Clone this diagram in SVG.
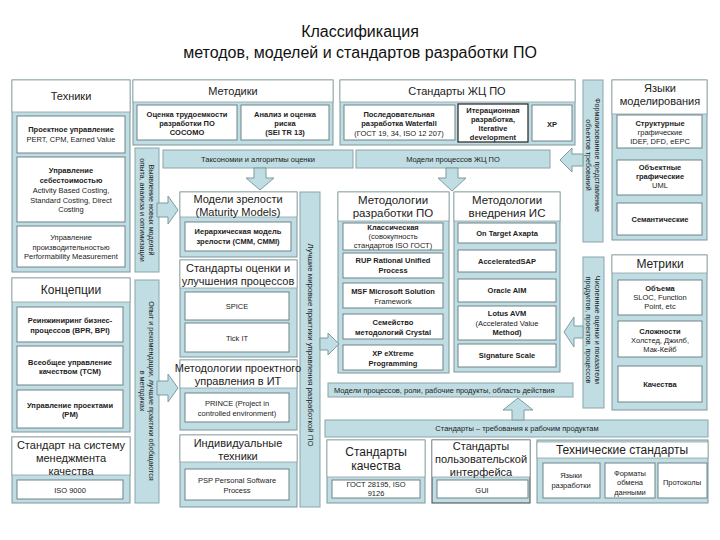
<svg xmlns="http://www.w3.org/2000/svg" width="720" height="540" viewBox="0 0 720 540">
<style>
text{font-family:"Liberation Sans",Arial,sans-serif;fill:#222;text-anchor:middle}
.panel{fill:#bfdde3;stroke:#7d979c;stroke-width:1}
.hdr{fill:#fff;stroke:#8fa3a7;stroke-width:0.8}
.box{fill:#fff;stroke:#6f8489;stroke-width:1}
.bar{fill:#bfdde3;stroke:#8aa5aa;stroke-width:1}
.arr{fill:#bfdde3;stroke:#7d9ba1;stroke-width:1}
.ti{font-size:16px;fill:#111}
.h{font-size:11px}
.hs{font-size:11px}
.b{font-size:7.5px;font-weight:bold}
.n{font-size:7.5px}
.v{font-size:7.2px}
</style>
<rect width="720" height="540" fill="#fff"/>
<g id="title">
<text class="ti" x="360" y="37">Классификация</text>
<text class="ti" x="360" y="58">методов, моделей и стандартов разработки ПО</text>
</g>

<g id="tekhniki">
<rect class="panel" x="12" y="80" width="118" height="192"/>
<rect class="hdr" x="12" y="80" width="118" height="32"/>
<text class="hs" x="71" y="100">Техники</text>
<rect class="box" x="17" y="116" width="108" height="37"/>
<text class="b" x="71" y="132">Проектное управление</text>
<text class="n" x="71" y="142">PERT, CPM, Earned Value</text>
<rect class="box" x="17" y="157" width="108" height="65"/>
<text class="b" x="71" y="173">Управление</text>
<text class="b" x="71" y="183">себестоимостью</text>
<text class="n" x="71" y="193">Activity Based Costing,</text>
<text class="n" x="71" y="203">Standard Costing, Direct</text>
<text class="n" x="71" y="212">Costing</text>
<rect class="box" x="17" y="226" width="108" height="41"/>
<text class="n" x="71" y="240">Управление</text>
<text class="n" x="71" y="250">производительностью</text>
<text class="n" x="71" y="259">Performability Measurement</text>
</g>

<g id="kontseptsii">
<rect class="panel" x="12" y="278" width="118" height="154"/>
<rect class="hdr" x="12" y="278" width="118" height="24"/>
<text class="h" x="71" y="294" style="font-size:12px">Концепции</text>
<rect class="box" x="17" y="307" width="106" height="35"/>
<text class="b" x="70" y="323">Реинжиниринг бизнес-</text>
<text class="b" x="70" y="333">процессов (BPR, BPI)</text>
<rect class="box" x="17" y="346" width="106" height="39"/>
<text class="b" x="70" y="365">Всеобщее управление</text>
<text class="b" x="70" y="374">качеством (TCM)</text>
<rect class="box" x="17" y="390" width="106" height="38"/>
<text class="b" x="70" y="408">Управление проектами</text>
<text class="b" x="70" y="417">(PM)</text>
</g>

<g id="standart-qms">
<rect class="panel" x="12" y="437" width="118" height="66"/>
<rect class="hdr" x="12" y="437" width="118" height="38"/>
<text class="h" x="71" y="449">Стандарт на систему</text>
<text class="h" x="71" y="462">менеджмента</text>
<text class="h" x="71" y="475">качества</text>
<rect class="box" x="17" y="480" width="106" height="19"/>
<text class="n" x="70" y="493">ISO 9000</text>
</g>

<g id="bar-vyyavlenie">
<rect class="bar" x="135" y="148" width="24" height="124"/>
<g transform="translate(147,210) rotate(90)">
<text class="v" x="0" y="-1.5">Выявление новых моделей</text>
<text class="v" x="0" y="7.5">опыта, анализа и оптимизации</text>
</g>
</g>

<g id="bar-opyt">
<rect class="bar" x="135" y="280" width="24" height="223"/>
<g transform="translate(147,391) rotate(90)">
<text class="v" x="0" y="-1.5">Опыт и рекомендации, лучшие практики обобщаются</text>
<text class="v" x="0" y="7.5">в методиках</text>
</g>
</g>

<g id="metodiki">
<rect class="panel" x="133" y="80" width="200" height="65"/>
<rect class="hdr" x="133" y="80" width="200" height="22"/>
<text class="hs" x="233" y="95">Методики</text>
<rect class="box" x="137" y="105" width="100" height="35"/>
<text class="b" x="187" y="117">Оценка трудоемкости</text>
<text class="b" x="187" y="126">разработки ПО</text>
<text class="b" x="187" y="135">COCOMO</text>
<rect class="box" x="241" y="105" width="88" height="35"/>
<text class="b" x="285" y="117">Анализ и оценка</text>
<text class="b" x="285" y="126">риска</text>
<text class="b" x="285" y="135">(SEI TR 13)</text>
</g>

<g id="standarty-zhc">
<rect class="panel" x="340" y="80" width="235" height="65"/>
<rect class="hdr" x="340" y="80" width="235" height="22"/>
<text class="hs" x="457" y="95">Стандарты ЖЦ ПО</text>
<rect class="box" x="344" y="105" width="111" height="35"/>
<text class="b" x="399" y="117">Последовательная</text>
<text class="b" x="399" y="126">разработка Waterfall</text>
<text class="n" x="399" y="136">(ГОСТ 19, 34, ISO 12 207)</text>
<rect class="box" x="458" y="104" width="70" height="38" style="stroke:#333;stroke-width:1.3"/>
<text class="b" x="493" y="113">Итерационная</text>
<text class="b" x="493" y="122">разработка,</text>
<text class="b" x="493" y="131">Iterative</text>
<text class="b" x="493" y="140">development</text>
<rect class="box" x="532" y="105" width="40" height="36"/>
<text class="b" x="552" y="127">XP</text>
</g>

<g id="bar-taksonomii">
<rect class="bar" x="163" y="150" width="190" height="18"/>
<text class="n" x="258" y="162">Таксономии и алгоритмы оценки</text>
</g>
<g id="bar-modeli-zhc">
<rect class="bar" x="356" y="150" width="194" height="18"/>
<text class="n" x="453" y="162">Модели процессов ЖЦ ПО</text>
</g>

<g id="bar-formalizovannoe">
<rect class="bar" x="583" y="80" width="20" height="162"/>
<g transform="translate(593,155) rotate(90)">
<text class="v" x="0" y="-1.5">Формализованное представление</text>
<text class="v" x="0" y="7.5">объектов требований</text>
</g>
</g>

<g id="yazyki-modelirovaniya">
<rect class="panel" x="612" y="80" width="95" height="160"/>
<rect class="hdr" x="612" y="80" width="95" height="34"/>
<text class="hs" x="660" y="92">Языки</text>
<text class="hs" x="660" y="105">моделирования</text>
<rect class="box" x="617" y="115" width="85" height="33"/>
<text class="b" x="660" y="126">Структурные</text>
<text class="n" x="660" y="135">графические</text>
<text class="n" x="660" y="144">IDEF, DFD, eEPC</text>
<rect class="box" x="617" y="160" width="85" height="35"/>
<text class="b" x="660" y="170">Объектные</text>
<text class="b" x="660" y="179">графические</text>
<text class="n" x="660" y="188">UML</text>
<rect class="box" x="617" y="203" width="85" height="32"/>
<text class="b" x="660" y="222">Семантические</text>
</g>

<g id="modeli-zrelosti">
<rect class="panel" x="180" y="192" width="117" height="65"/>
<rect class="hdr" x="180" y="192" width="117" height="25"/>
<text class="h" x="238" y="202.5">Модели зрелости</text>
<text class="h" x="238" y="215.5">(Maturity Models)</text>
<rect class="box" x="185" y="222" width="106" height="29"/>
<text class="b" x="238" y="234">Иерархическая модель</text>
<text class="b" x="238" y="244">зрелости (CMM, CMMI)</text>
</g>

<g id="bar-luchshie">
<rect class="bar" x="300" y="192" width="20" height="315"/>
<g transform="translate(310,345) rotate(90)">
<text class="v" x="0" y="2.5" style="font-size:7.8px">Лучшие мировые практики управления разработкой ПО</text>
</g>
</g>

<g id="standarty-otsenki">
<rect class="panel" x="180" y="260" width="117" height="97"/>
<rect class="hdr" x="180" y="260" width="117" height="28"/>
<text class="h" x="238" y="271.5">Стандарты оценки и</text>
<text class="h" x="238" y="284.5">улучшения процессов</text>
<rect class="box" x="185" y="292" width="104" height="28"/>
<text class="n" x="237" y="309">SPICE</text>
<rect class="box" x="185" y="323" width="104" height="29"/>
<text class="n" x="237" y="341">Tick IT</text>
</g>

<g id="metodologii-pu">
<rect class="panel" x="180" y="360" width="117" height="70"/>
<rect class="hdr" x="180" y="360" width="117" height="28"/>
<text class="h" x="238" y="371.5">Методологии проектного</text>
<text class="h" x="238" y="384.5">управления в ИТ</text>
<rect class="box" x="185" y="393" width="104" height="29"/>
<text class="n" x="237" y="406">PRINCE (Project in</text>
<text class="n" x="237" y="416">controlled environment)</text>
</g>

<g id="individualnye">
<rect class="panel" x="180" y="435" width="117" height="72"/>
<rect class="hdr" x="180" y="435" width="117" height="27"/>
<text class="h" x="238" y="446.5">Индивидуальные</text>
<text class="h" x="238" y="459.5">техники</text>
<rect class="box" x="185" y="469" width="104" height="31"/>
<text class="n" x="237" y="483">PSP Personal Software</text>
<text class="n" x="237" y="493">Process</text>
</g>

<g id="metodologii-razrabotki">
<rect class="panel" x="338" y="192" width="111" height="181"/>
<rect class="hdr" x="338" y="192" width="111" height="29"/>
<text class="h" x="393" y="203.5" style="font-size:11.5px">Методологии</text>
<text class="h" x="393" y="216.5" style="font-size:11.5px">разработки ПО</text>
<rect class="box" x="343" y="223" width="100" height="27"/>
<text class="b" x="393" y="230">Классическая</text>
<text class="n" x="393" y="239">(совокупность</text>
<text class="n" x="393" y="248">стандартов ISO ГОСТ)</text>
<rect class="box" x="343" y="253" width="100" height="25"/>
<text class="b" x="393" y="263">RUP Rational Unified</text>
<text class="b" x="393" y="273">Process</text>
<rect class="box" x="343" y="283" width="100" height="25"/>
<text class="b" x="393" y="294">MSF Microsoft Solution</text>
<text class="n" x="393" y="304">Framework</text>
<rect class="box" x="343" y="314" width="100" height="25"/>
<text class="b" x="393" y="325">Семейство</text>
<text class="b" x="393" y="335">методологий Crystal</text>
<rect class="box" x="343" y="345" width="100" height="25"/>
<text class="b" x="393" y="356">XP eXtreme</text>
<text class="b" x="393" y="366">Programming</text>
</g>

<g id="metodologii-vnedreniya">
<rect class="panel" x="454" y="192" width="106" height="180"/>
<rect class="hdr" x="454" y="192" width="106" height="29"/>
<text class="h" x="507" y="203.5" style="font-size:11.5px">Методологии</text>
<text class="h" x="507" y="216.5" style="font-size:11.5px">внедрения ИС</text>
<rect class="box" x="458" y="223" width="98" height="20"/>
<text class="b" x="507" y="236">On Target Axapta</text>
<rect class="box" x="458" y="250" width="98" height="22"/>
<text class="b" x="507" y="264">AcceleratedSAP</text>
<rect class="box" x="458" y="279" width="98" height="23"/>
<text class="b" x="507" y="293">Oracle AIM</text>
<rect class="box" x="458" y="306" width="98" height="34"/>
<text class="b" x="507" y="316">Lotus AVM</text>
<text class="n" x="507" y="326">(Accelerated Value</text>
<text class="b" x="507" y="335">Method)</text>
<rect class="box" x="458" y="344" width="98" height="23"/>
<text class="b" x="507" y="358">Signature Scale</text>
</g>

<g id="bar-chislennye">
<rect class="bar" x="583" y="257" width="21" height="151"/>
<g transform="translate(593.5,330) rotate(90)">
<text class="v" x="0" y="-1.5">Численные оценки и показатели</text>
<text class="v" x="0" y="7.5">продуктов, проектов, процессов</text>
</g>
</g>

<g id="metriki">
<rect class="panel" x="612" y="255" width="95" height="155"/>
<rect class="hdr" x="612" y="255" width="95" height="18"/>
<text class="h" x="660" y="268" style="font-size:12px">Метрики</text>
<rect class="box" x="618" y="280" width="84" height="35"/>
<text class="b" x="660" y="291">Объема</text>
<text class="n" x="660" y="300">SLOC, Function</text>
<text class="n" x="660" y="309">Point, etc</text>
<rect class="box" x="618" y="321" width="84" height="36"/>
<text class="b" x="660" y="334">Сложности</text>
<text class="n" x="660" y="343">Холстед, Джилб,</text>
<text class="n" x="660" y="352">Мак-Кейб</text>
<rect class="box" x="618" y="366" width="84" height="36"/>
<text class="b" x="660" y="387">Качества</text>
</g>

<g id="bar-modeli-roli">
<rect class="bar" x="328" y="383" width="245" height="14"/>
<text class="n" x="334" y="393" style="text-anchor:start">Модели процессов, роли, рабочие продукты, область действия</text>
</g>

<g id="bar-standarty-trebovaniya">
<rect class="bar" x="325" y="420" width="383" height="17"/>
<text class="n" x="517" y="431">Стандарты – требования к рабочим продуктам</text>
</g>

<g id="standarty-kachestva">
<rect class="panel" x="327" y="440" width="98" height="63"/>
<rect class="hdr" x="327" y="440" width="98" height="37"/>
<text class="h" x="376" y="455.5" style="font-size:12px">Стандарты</text>
<text class="h" x="376" y="469.5" style="font-size:12px">качества</text>
<rect class="box" x="332" y="480" width="88" height="18"/>
<text class="n" x="376" y="487">ГОСТ 28195, ISO</text>
<text class="n" x="376" y="496">9126</text>
</g>

<g id="standarty-interfeysa">
<rect class="panel" x="432" y="440" width="98" height="63" style="stroke:#444"/>
<rect class="hdr" x="432" y="440" width="98" height="37"/>
<text class="h" x="481" y="450">Стандарты</text>
<text class="h" x="481" y="463">пользовательской</text>
<text class="h" x="481" y="476">интерфейса</text>
<rect class="box" x="437" y="480" width="91" height="18"/>
<text class="n" x="482" y="493">GUI</text>
</g>

<g id="tekhnicheskie-standarty">
<rect class="panel" x="537" y="440" width="171" height="63"/>
<rect class="hdr" x="537" y="442" width="171" height="16"/>
<text class="h" x="622" y="454" style="font-size:12px">Технические стандарты</text>
<rect class="box" x="543" y="463" width="57" height="35"/>
<text class="n" x="571" y="478">Языки</text>
<text class="n" x="571" y="488">разработки</text>
<rect class="box" x="605" y="463" width="50" height="35"/>
<text class="n" x="630" y="476">Форматы</text>
<text class="n" x="630" y="485">обмена</text>
<text class="n" x="630" y="495">данными</text>
<rect class="box" x="658" y="463" width="49" height="35"/>
<text class="n" x="682" y="485">Протоколы</text>
</g>

<g id="connectors">
<polygon class="arr" points="157,203 168,203 168,196 178,210 168,224 168,217 157,217"/>
<polygon class="arr" points="157,381 168,381 168,374 178,388 168,402 168,395 157,395"/>
<polygon class="arr" points="320,338 328,338 328,333 339,344 328,355 328,350 320,350"/>
<polygon class="arr" points="254,168 254,178 246,178 260,190 274,178 266,178 266,168"/>
<polygon class="arr" points="446,168 446,178 438,178 452,191 466,178 458,178 458,168"/>
<polygon class="arr" points="583,154 572,154 572,148 560,160 572,172 572,166 583,166"/>
<polygon class="arr" points="583,326 574,326 574,317 564,332 574,347 574,338 583,338"/>
<polygon class="arr" points="512,420 512,410 503,410 518,398 533,410 524,410 524,420"/>
</g>
</svg>
